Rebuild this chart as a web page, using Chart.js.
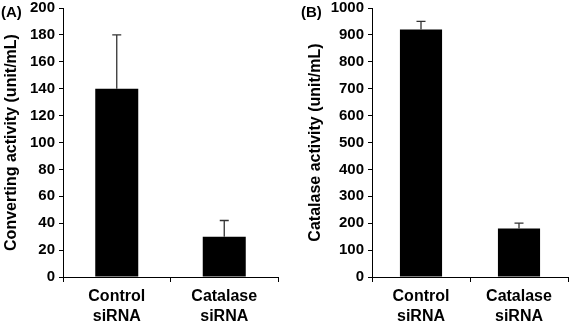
<!DOCTYPE html>
<html>
<head>
<meta charset="utf-8">
<script src="https://cdn.jsdelivr.net/npm/chart.js@4/dist/chart.umd.min.js"></script>
<style>
  html, body { margin: 0; padding: 0; background: #fff; }
  #wrap { position: relative; width: 581px; height: 328px; overflow: hidden; }
  canvas { position: absolute; top: 0; }
  .panel { position: absolute; font-family: "Liberation Sans", Arial, sans-serif; font-weight: bold; font-size: 15px; color: #000; }
</style>
</head>
<body>
<div id="wrap">
  <canvas id="cA" width="290" height="328" style="left:0"></canvas>
  <canvas id="cB" width="291" height="328" style="left:290px"></canvas>
  <div class="panel" style="left:1px; top:3px;">(A)</div>
  <div class="panel" style="left:301px; top:3px;">(B)</div>
</div>
<script>
const categories = [['Control', 'siRNA'], ['Catalase', 'siRNA']];
const convertingValues = [140, 30];
const convertingErrors = [40, 12];
const catalaseValues = [920, 180];
const catalaseErrors = [30, 20];
const convertingTitle = 'Converting activity (unit/mL)';
const catalaseTitle = 'Catalase activity (unit/mL)';

const FONT = "'Liberation Sans', Arial, sans-serif";
Chart.defaults.font.family = FONT;
Chart.defaults.font.weight = 'bold';
Chart.defaults.color = '#000';

const errorBarPlugin = {
  id: 'errorBars',
  afterDatasetsDraw(chart) {
    const ctx = chart.ctx;
    const errs = chart.options.plugins.errorBars.errors;
    const yScale = chart.scales.y;
    chart.data.datasets.forEach((ds, di) => {
      const meta = chart.getDatasetMeta(di);
      meta.data.forEach((bar, i) => {
        const v = ds.data[i];
        const top = yScale.getPixelForValue(v + errs[i]);
        const base = yScale.getPixelForValue(v);
        ctx.save();
        ctx.strokeStyle = '#333';
        ctx.lineWidth = 1.3;
        ctx.beginPath();
        ctx.moveTo(bar.x, base);
        ctx.lineTo(bar.x, top);
        ctx.moveTo(bar.x - 4.5, top);
        ctx.lineTo(bar.x + 4.5, top);
        ctx.stroke();
        ctx.restore();
      });
    });
  }
};

function makeChart(id, values, errors, title, yMax, step, yWidth, titlePad, rightPad, barPct) {
  return new Chart(document.getElementById(id), {
    type: 'bar',
    data: {
      labels: categories,
      datasets: [{
        data: values,
        backgroundColor: '#000',
        borderWidth: 0,
        barPercentage: barPct,
        categoryPercentage: 1
      }]
    },
    options: {
      responsive: false,
      devicePixelRatio: 1,
      animation: false,
      layout: { padding: { top: 0, right: rightPad, left: 0, bottom: 0 } },
      plugins: {
        legend: { display: false },
        tooltip: { enabled: false },
        errorBars: { errors: errors }
      },
      scales: {
        x: {
          grid: { display: true, drawOnChartArea: false, drawTicks: true, tickLength: 5, color: '#000', offset: true },
          border: { display: true, color: '#000', width: 1 },
          ticks: { color: '#000', font: { family: FONT, size: 16, weight: 'bold', lineHeight: 1.22 }, padding: 5, maxRotation: 0 },
          afterFit: (s) => { s.height = 51; }
        },
        y: {
          min: 0, max: yMax,
          grid: { display: true, drawOnChartArea: false, drawTicks: true, tickLength: 4, color: '#000' },
          border: { display: true, color: '#000', width: 1 },
          ticks: { stepSize: step, color: '#000', font: { family: FONT, size: 15, weight: 'bold' }, padding: 4,
                   callback: (v) => String(v) },
          title: { display: true, text: title, color: '#000', font: { family: FONT, size: 16, weight: 'bold' }, padding: { top: titlePad, bottom: 0 } },
          afterFit: (s) => { s.width = yWidth; s.paddingTop = 8; s.paddingBottom = 0; }
        }
      }
    },
    plugins: [errorBarPlugin]
  });
}

makeChart('cA', convertingValues, convertingErrors, convertingTitle, 200, 20, 63, 2, 12, 0.4);
makeChart('cB', catalaseValues, catalaseErrors, catalaseTitle, 1000, 100, 82, 16, 13, 0.43);
</script>
</body>
</html>
